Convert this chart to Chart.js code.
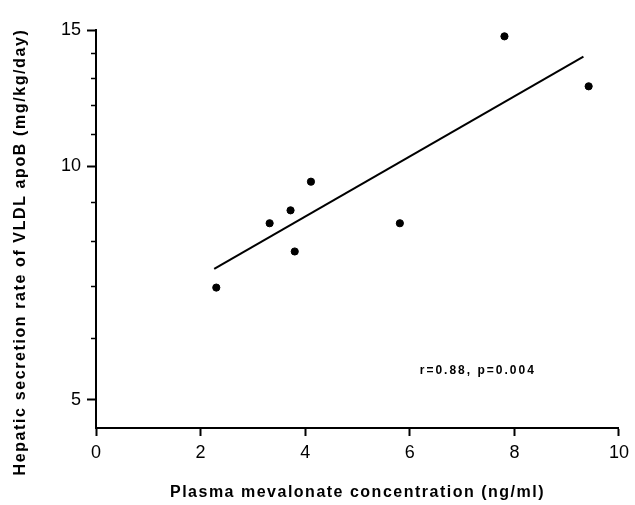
<!DOCTYPE html>
<html>
<head>
<meta charset="utf-8">
<script src="https://cdn.jsdelivr.net/npm/chart.js@4.4.1/dist/chart.umd.min.js"></script>
<style>
  html, body { margin: 0; padding: 0; background: #fff; }
  #wrap { width: 635px; height: 505px; }
</style>
</head>
<body>
<div id="wrap"><canvas id="myCanvas" width="635" height="505"></canvas></div>
<script>
// values
var mevalonate = [2.30, 3.32, 3.72, 3.80, 4.11, 5.81, 7.81, 9.42];
var secretion  = [6.98, 8.45, 8.78, 7.77, 9.56, 8.45, 14.72, 12.69];
var fitX = [2.26, 9.32];
var fitY = [7.38, 13.86];
var yMajorTicks = [5, 10, 15];
var yMinorTicks = [6, 7, 8, 9, 11, 12, 13, 14];
var statText = "r=0.88, p=0.004";

var points = mevalonate.map(function (x, i) { return {x: x, y: secretion[i]}; });
var fit = fitX.map(function (x, i) { return {x: x, y: fitY[i]}; });

// the scanned figure uses widely tracked lettering for titles,
// and the y title sits a bit lower than the axis middle
var titleStyle = {x: {spacing: '1.5px', shift: 0}, y: {spacing: '1.6px', shift: 23}};

var spacedTitles = {
    id: 'spacedTitles',
    beforeDraw: function (chart) {
        ['x', 'y'].forEach(function (id) {
            var s = chart.scales[id];
            if (s._spaced) return;
            var orig = s.drawTitle;
            s.drawTitle = function () {
                var ctx = this.ctx;
                ctx.save();
                ctx.letterSpacing = titleStyle[id].spacing;
                ctx.translate(0, titleStyle[id].shift);
                orig.apply(this, arguments);
                ctx.restore();
            };
            s._spaced = true;
        });
    }
};

var annotate = {
    id: 'annotate',
    afterDatasetsDraw: function (chart) {
        var ctx = chart.ctx;
        var px = chart.scales.x.getPixelForValue(7.3);
        var py = chart.scales.y.getPixelForValue(5.45);
        ctx.save();
        ctx.fillStyle = '#000';
        ctx.font = 'bold 12px "Liberation Sans", Arial, sans-serif';
        ctx.letterSpacing = '2px';
        ctx.textAlign = 'center';
        ctx.textBaseline = 'middle';
        ctx.fillText(statText, px, py);
        ctx.restore();
    }
};

new Chart(document.getElementById("myCanvas"), {
    type: 'scatter',
    data: {
        datasets: [
            {
                label: 'data',
                data: points,
                backgroundColor: '#000',
                borderColor: '#000',
                pointRadius: 3.6,
                pointHoverRadius: 3.6
            },
            {
                type: 'line',
                label: 'fit',
                data: fit,
                borderColor: '#000',
                borderWidth: 2,
                pointRadius: 0,
                fill: false
            }
        ]
    },
    options: {
        responsive: false,
        animation: false,
        layout: {autoPadding: false, padding: {top: 30, right: 13, left: 0, bottom: 0}},
        plugins: {legend: {display: false}, tooltip: {enabled: false}},
        scales: {
            x: {
                type: 'linear',
                min: 0,
                max: 10,
                ticks: {
                    stepSize: 2,
                    color: '#000',
                    padding: 6,
                    font: {family: '"Liberation Sans", Arial, sans-serif', size: 18}
                },
                grid: {drawOnChartArea: false, tickLength: 8, tickWidth: 2, tickColor: '#000'},
                border: {color: '#000', width: 2},
                title: {
                    display: true,
                    text: 'Plasma mevalonate concentration (ng/ml)',
                    color: '#000',
                    font: {family: '"Liberation Sans", Arial, sans-serif', size: 16, weight: 'bold'},
                    padding: {top: 0, bottom: 3}
                },
                afterFit: function (scale) { scale.height = 77; }
            },
            y: {
                type: 'logarithmic',
                min: 4.6,
                max: 15,
                weight: 1,
                afterBuildTicks: function (scale) {
                    scale.ticks = yMajorTicks.map(function (v) { return {value: v}; });
                },
                ticks: {
                    color: '#000',
                    padding: 6,
                    font: {family: '"Liberation Sans", Arial, sans-serif', size: 18},
                    callback: function (v) { return String(v); }
                },
                grid: {drawOnChartArea: false, tickLength: 9, tickWidth: 2, tickColor: '#000'},
                border: {color: '#000', width: 2},
                title: {
                    display: true,
                    text: 'Hepatic secretion rate of VLDL apoB (mg/kg/day)',
                    color: '#000',
                    font: {family: '"Liberation Sans", Arial, sans-serif', size: 16, weight: 'bold'},
                    padding: {top: 11, bottom: 0}
                },
                afterFit: function (scale) { scale.width = 96; }
            },
            y2: {
                type: 'logarithmic',
                position: 'left',
                min: 4.6,
                max: 15,
                weight: 0,
                afterBuildTicks: function (scale) {
                    scale.ticks = yMinorTicks.map(function (v) { return {value: v}; });
                },
                ticks: {display: false},
                grid: {drawOnChartArea: false, tickLength: 5, tickWidth: 1.5, tickColor: '#000'},
                border: {display: false},
                afterFit: function (scale) { scale.width = 0; }
            }
        }
    },
    plugins: [spacedTitles, annotate]
});
</script>
</body>
</html>
